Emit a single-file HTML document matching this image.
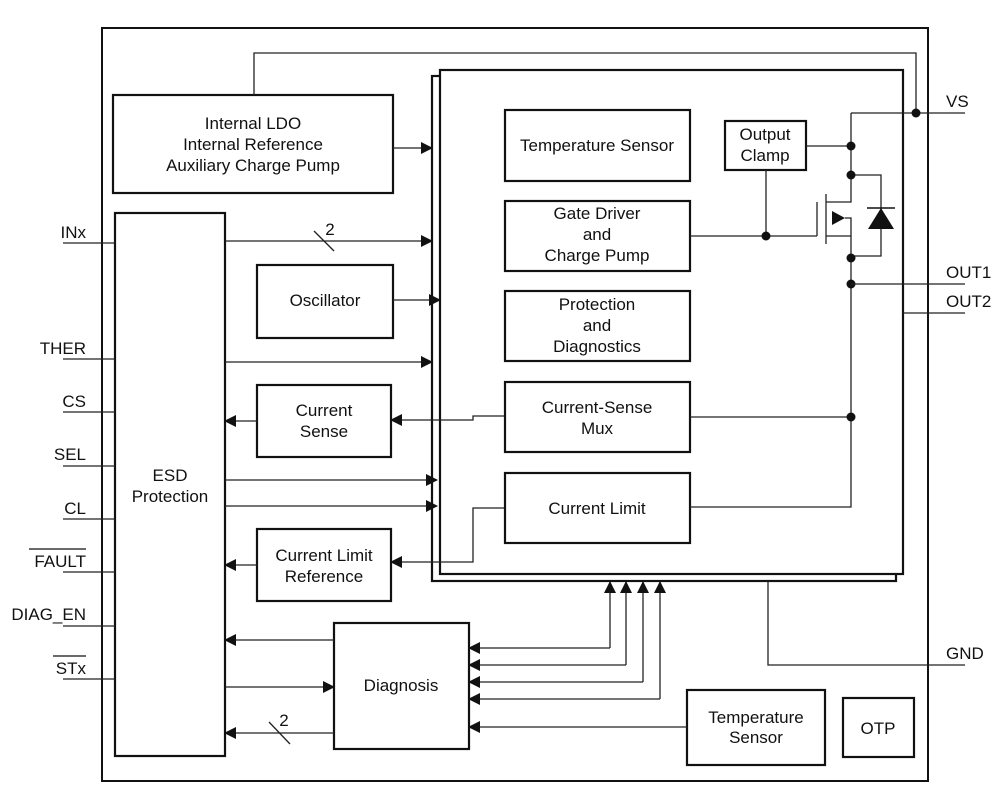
<!DOCTYPE html>
<html><head><meta charset="utf-8"><style>
html,body{margin:0;padding:0;background:#fff;}
svg{display:block;}
text{font-family:"Liberation Sans",sans-serif;font-size:17px;fill:#111;}
.c{text-anchor:middle;}
.r{text-anchor:end;}
.b{fill:#fff;stroke:#111;stroke-width:2.2;}
.l{stroke:#222;stroke-width:1.3;fill:none;}
</style></head><body>
<svg width="1001" height="794" viewBox="0 0 1001 794" xmlns="http://www.w3.org/2000/svg">
<defs>
<marker id="a" markerWidth="12" markerHeight="12" refX="11" refY="6" orient="auto" markerUnits="userSpaceOnUse"><path d="M0,0 L12,6 L0,12 z" fill="#111"/></marker>
</defs>
<rect x="102" y="28" width="826" height="753" fill="none" stroke="#111" stroke-width="2"/>
<rect x="432" y="76" width="464" height="505" class="b"/>
<rect x="440" y="70" width="463" height="504" class="b"/>

<rect x="113" y="95" width="280" height="98" class="b"/>
<text x="253" y="129" class="c">Internal LDO</text>
<text x="253" y="150" class="c">Internal Reference</text>
<text x="253" y="171" class="c">Auxiliary Charge Pump</text>
<polyline points="254,95 254,53 916,53 916,113" class="l"/>
<line x1="851" y1="113" x2="965" y2="113" class="l"/>
<circle cx="916" cy="113" r="4.5" fill="#111"/>
<text x="946" y="107">VS</text>
<line x1="393" y1="148" x2="432" y2="148" class="l" marker-end="url(#a)"/>

<rect x="115" y="213" width="110" height="543" class="b"/>
<text x="170" y="481" class="c">ESD</text>
<text x="170" y="502" class="c">Protection</text>

<g class="l">
<line x1="63" y1="243" x2="115" y2="243"/>
<line x1="63" y1="359" x2="115" y2="359"/>
<line x1="63" y1="412" x2="115" y2="412"/>
<line x1="63" y1="466" x2="115" y2="466"/>
<line x1="63" y1="519" x2="115" y2="519"/>
<line x1="63" y1="572" x2="115" y2="572"/>
<line x1="63" y1="626" x2="115" y2="626"/>
<line x1="63" y1="679" x2="115" y2="679"/>
</g>
<text x="86" y="238" class="r">INx</text>
<text x="86" y="354" class="r">THER</text>
<text x="86" y="407" class="r">CS</text>
<text x="86" y="460" class="r">SEL</text>
<text x="86" y="514" class="r">CL</text>
<text x="86" y="567" class="r">FAULT</text>
<line x1="29" y1="549" x2="86" y2="549" stroke="#111" stroke-width="1.3"/>
<text x="86" y="620" class="r">DIAG_EN</text>
<text x="86" y="674" class="r">STx</text>
<line x1="53" y1="656" x2="86" y2="656" stroke="#111" stroke-width="1.3"/>

<line x1="225" y1="241" x2="432" y2="241" class="l" marker-end="url(#a)"/>
<line x1="314" y1="231" x2="334" y2="251" class="l"/>
<text x="330" y="235" class="c">2</text>

<rect x="257" y="265" width="136" height="73" class="b"/>
<text x="325" y="306" class="c">Oscillator</text>
<line x1="393" y1="300" x2="440" y2="300" class="l" marker-end="url(#a)"/>

<line x1="225" y1="362" x2="432" y2="362" class="l" marker-end="url(#a)"/>

<rect x="257" y="385" width="134" height="72" class="b"/>
<text x="324" y="416" class="c">Current</text>
<text x="324" y="437" class="c">Sense</text>
<polyline points="505,416 473,416 473,420 391,420" class="l" marker-end="url(#a)"/>
<line x1="257" y1="421" x2="225" y2="421" class="l" marker-end="url(#a)"/>

<line x1="225" y1="480" x2="437" y2="480" class="l" marker-end="url(#a)"/>
<line x1="225" y1="506" x2="437" y2="506" class="l" marker-end="url(#a)"/>

<rect x="257" y="529" width="134" height="72" class="b"/>
<text x="324" y="561" class="c">Current Limit</text>
<text x="324" y="582" class="c">Reference</text>
<polyline points="505,508 473,508 473,562 391,562" class="l" marker-end="url(#a)"/>
<line x1="257" y1="565" x2="225" y2="565" class="l" marker-end="url(#a)"/>

<rect x="334" y="623" width="135" height="126" class="b"/>
<text x="401" y="691" class="c">Diagnosis</text>
<line x1="334" y1="640" x2="225" y2="640" class="l" marker-end="url(#a)"/>
<line x1="225" y1="687" x2="334" y2="687" class="l" marker-end="url(#a)"/>
<line x1="334" y1="733" x2="225" y2="733" class="l" marker-end="url(#a)"/>
<line x1="269" y1="722" x2="290" y2="744" class="l"/>
<text x="284" y="726" class="c">2</text>
<polyline points="610,648 469,648" class="l" marker-end="url(#a)"/>
<polyline points="626,665 469,665" class="l" marker-end="url(#a)"/>
<polyline points="643,682 469,682" class="l" marker-end="url(#a)"/>
<polyline points="660,699 469,699" class="l" marker-end="url(#a)"/>
<line x1="610" y1="648" x2="610" y2="582" class="l" marker-end="url(#a)"/>
<line x1="626" y1="665" x2="626" y2="582" class="l" marker-end="url(#a)"/>
<line x1="643" y1="682" x2="643" y2="582" class="l" marker-end="url(#a)"/>
<line x1="660" y1="699" x2="660" y2="582" class="l" marker-end="url(#a)"/>

<rect x="687" y="690" width="138" height="75" class="b"/>
<text x="756" y="723" class="c">Temperature</text>
<text x="756" y="743" class="c">Sensor</text>
<line x1="687" y1="727" x2="469" y2="727" class="l" marker-end="url(#a)"/>
<rect x="843" y="698" width="71" height="59" class="b"/>
<text x="878" y="734" class="c">OTP</text>

<polyline points="768,581 768,665 965,665" class="l"/>
<text x="946" y="659">GND</text>

<rect x="505" y="110" width="185" height="71" class="b"/>
<text x="597" y="151" class="c">Temperature Sensor</text>
<rect x="505" y="201" width="185" height="70" class="b"/>
<text x="597" y="219" class="c">Gate Driver</text>
<text x="597" y="240" class="c">and</text>
<text x="597" y="261" class="c">Charge Pump</text>
<rect x="505" y="291" width="185" height="70" class="b"/>
<text x="597" y="310" class="c">Protection</text>
<text x="597" y="331" class="c">and</text>
<text x="597" y="352" class="c">Diagnostics</text>
<rect x="505" y="382" width="185" height="70" class="b"/>
<text x="597" y="413" class="c">Current-Sense</text>
<text x="597" y="434" class="c">Mux</text>
<rect x="505" y="473" width="185" height="70" class="b"/>
<text x="597" y="514" class="c">Current Limit</text>

<rect x="725" y="121" width="81" height="49" class="b"/>
<text x="765" y="140" class="c">Output</text>
<text x="765" y="161" class="c">Clamp</text>
<line x1="806" y1="146" x2="851" y2="146" class="l"/>
<line x1="766" y1="170" x2="766" y2="236" class="l"/>
<line x1="690" y1="236" x2="817" y2="236" class="l"/>
<circle cx="766" cy="236" r="4.5" fill="#111"/>

<line x1="817" y1="202" x2="817" y2="236" class="l"/>
<line x1="826" y1="194" x2="826" y2="244" class="l"/>
<polyline points="826,202 851,202 851,113" class="l"/>
<polyline points="845,218 851,218 851,507 690,507" class="l"/>
<line x1="826" y1="236" x2="851" y2="236" class="l"/>
<path d="M832,211 L845,218 L832,225 z" fill="#111"/>
<line x1="690" y1="417" x2="851" y2="417" class="l"/>
<polyline points="851,175 881,175 881,256 851,256" class="l"/>
<path d="M868,229 L894,229 L881,208 z" fill="#111"/>
<line x1="867" y1="208" x2="895" y2="208" stroke="#111" stroke-width="1.6"/>
<circle cx="851" cy="146" r="4.5" fill="#111"/>
<circle cx="851" cy="175" r="4.5" fill="#111"/>
<circle cx="851" cy="258" r="4.5" fill="#111"/>
<circle cx="851" cy="284" r="4.5" fill="#111"/>
<circle cx="851" cy="417" r="4.5" fill="#111"/>
<line x1="851" y1="284" x2="965" y2="284" class="l"/>
<line x1="903" y1="313" x2="965" y2="313" class="l"/>
<text x="946" y="278">OUT1</text>
<text x="946" y="307">OUT2</text>
</svg>
</body></html>
